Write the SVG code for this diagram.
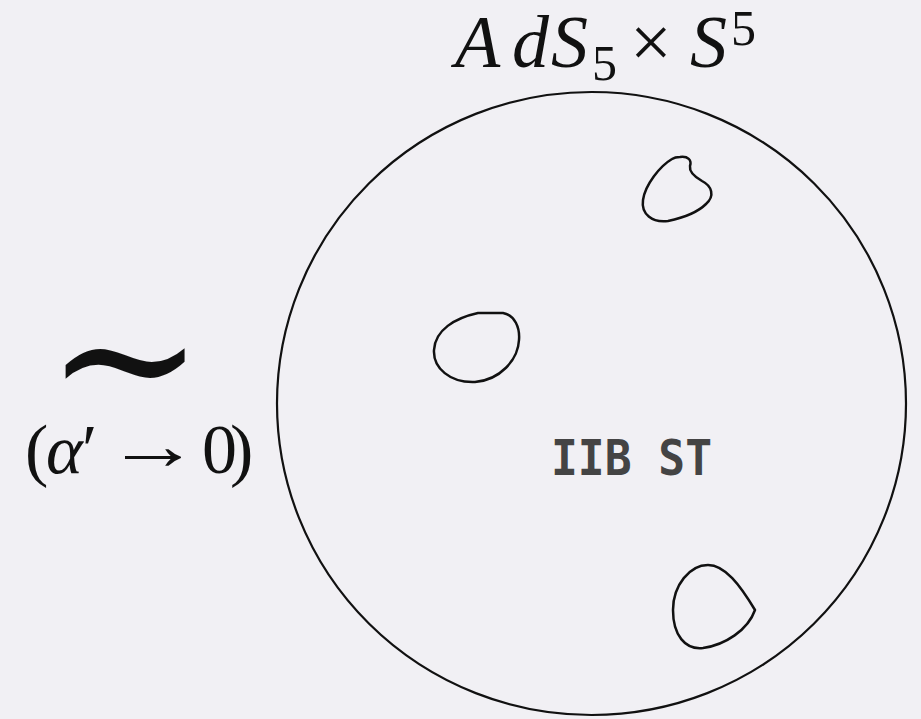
<svg xmlns="http://www.w3.org/2000/svg" width="921" height="719" viewBox="0 0 921 719">
<style>
.math{font-family:"Liberation Serif","DejaVu Serif",serif;fill:#111}
.it{font-style:italic}
.blob{fill:none;stroke:#111;stroke-width:2.5;stroke-linejoin:round}
.lbl{font-family:"DejaVu Sans Mono","Liberation Mono",monospace;font-weight:bold;fill:#444}
</style>
<rect x="0" y="0" width="921" height="719" fill="#f1f0f4"/>
<g id="title">
<text class="math" font-size="74" y="67"><tspan class="it" x="455">A</tspan><tspan class="it" x="512">d</tspan><tspan class="it" x="551">S</tspan><tspan x="592" y="80" font-size="50">5</tspan><tspan x="630" y="67">×</tspan><tspan class="it" x="690">S</tspan><tspan x="731" y="45" font-size="50">5</tspan></text>
</g>
<g id="limit">
<text class="math" x="125" y="423" font-size="190" text-anchor="middle" font-family="DejaVu Serif">∼</text>
<text class="math" font-size="70" x="25" y="473">(<tspan class="it" x="46">α</tspan><tspan x="82">′</tspan></text>
<text class="math" font-family="DejaVu Sans" font-size="70" x="106" y="469" transform="translate(106 0) scale(1.35 1) translate(-106 0)">→</text>
<text class="math" font-size="70" x="202" y="473">0<tspan x="230">)</tspan></text>
</g>
<g id="sphere">
<ellipse cx="591.5" cy="403.5" rx="314.5" ry="311.5" fill="none" stroke="#111" stroke-width="2.2"/>
<text class="lbl" x="551" y="475" font-size="50" textLength="161" lengthAdjust="spacingAndGlyphs">IIB ST</text>
</g>
<g id="blob1"><path class="blob" d="M 680 157 C 688 156, 692 160, 690 166 C 689 172, 695 177, 702 181 C 712 186, 715 196, 706 204 C 698 212, 682 218, 668 221 C 652 223, 641 214, 643 200 C 645 185, 660 166, 672 159 C 675 157, 678 157, 680 157 Z"/></g>
<g id="blob2"><path class="blob" d="M 478 313 L 503 313 C 515 315, 520 328, 519 340 C 518 360, 500 380, 475 382 C 450 383, 433 368, 434 350 C 435 330, 455 318, 478 313 Z"/></g>
<g id="blob3"><path class="blob" d="M 708 565 C 725 565, 740 585, 755 610 C 748 630, 725 645, 703 648 C 685 650, 673 635, 673 610 C 673 585, 690 565, 708 565 Z"/></g>
<g id="connectors"></g>
</svg>
